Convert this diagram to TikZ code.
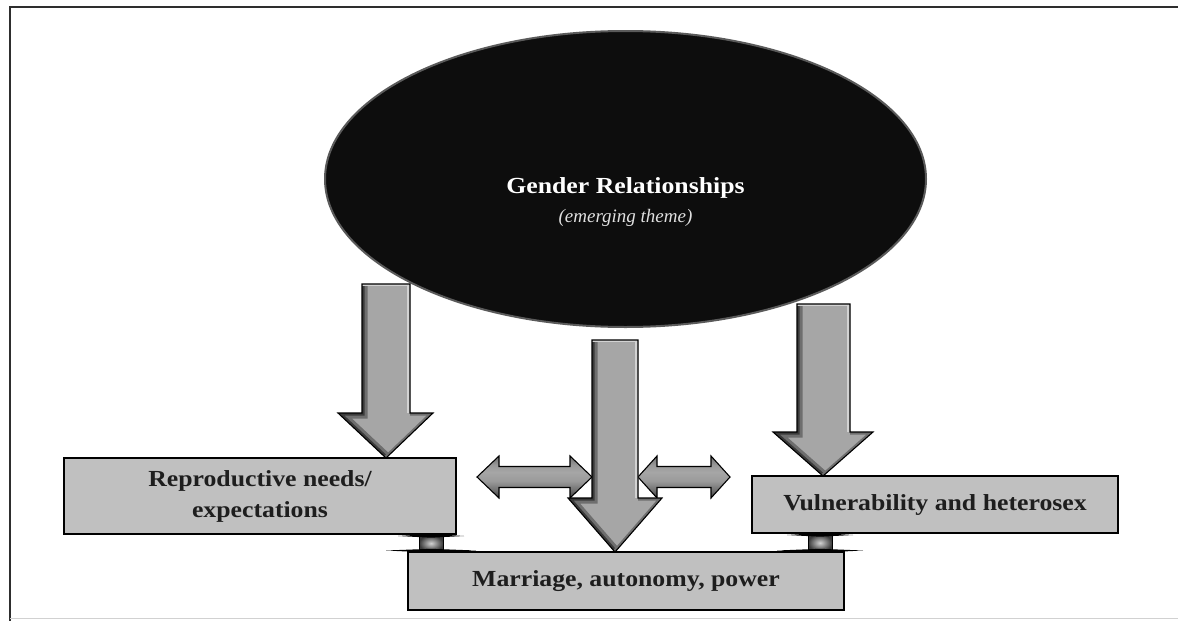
\documentclass[tikz,border=0pt]{standalone}
\usepackage{fontspec}
\setmainfont{Liberation Serif}
\newfontfamily\garb[FakeStretch=1.12]{Liberation Serif}
\usetikzlibrary{shapes.geometric}
\definecolor{boxgray}{HTML}{C0C0C0}
\definecolor{arrgray}{HTML}{A6A6A6}
\definecolor{txt}{HTML}{1E1E1E}
\definecolor{bevdark}{HTML}{3A3A3A}
\definecolor{bevmid}{HTML}{6E6E6E}
\definecolor{bevlight}{HTML}{D2D2D2}
\definecolor{hmid}{HTML}{9A9A9A}
\definecolor{framec}{HTML}{2E2E2E}
\definecolor{rimc}{HTML}{5A5A5A}
\pgfdeclareverticalshading{hbevel}{100bp}{color(0bp)=(bevdark); color(25bp)=(bevdark); color(34bp)=(bevmid); color(45bp)=(hmid); color(56bp)=(arrgray); color(64bp)=(hmid); color(75bp)=(bevmid); color(100bp)=(bevmid)}
\tikzset{
  boxnode/.style={draw=black, line width=1.4pt, fill=boxgray, inner sep=0pt, text=txt,
     font=\garb\bfseries\fontsize{23}{31}\selectfont, align=center},
  arrline/.style={draw=black, line width=1.1pt, line join=miter},
}
% down block arrow: xl xr hl hr y0 hy xc ty
\newcommand{\blkdown}[8]{%
  \begin{scope}
    \clip (#1,#5) -- (#2,#5) -- (#2,#6) -- (#4,#6) -- (#7,#8) -- (#3,#6) -- (#1,#6) -- cycle;
    \fill[arrgray] (#3,#5) rectangle (#4,#8);
    \draw[line width=11pt, bevmid] (#1,#5) -- (#1,#6) -- (#3,#6) -- (#7,#8);
    \draw[line width=5pt, bevdark] (#1,#5) -- (#1,#6) -- (#3,#6) -- (#7,#8);
    \draw[line width=7pt, bevlight] (#2,#5) -- (#2,#6);
    \draw[line width=4pt, bevlight] (#1,#5) -- (#2,#5);
    \draw[line width=5pt, bevmid] (#2,#6) -- (#4,#6) -- (#7,#8);
  \end{scope}
  \draw[arrline] (#1,#5) -- (#2,#5) -- (#2,#6) -- (#4,#6) -- (#7,#8) -- (#3,#6) -- (#1,#6) -- cycle;
}
% double horizontal block arrow: xa xb yc hs hh hl
\newcommand{\blkdouble}[6]{%
  \path[shading=hbevel, arrline] (#1,#3) -- ({#1+#6},{#3-#5}) -- ({#1+#6},{#3-#4}) -- ({#2-#6},{#3-#4})
     -- ({#2-#6},{#3-#5}) -- (#2,#3) -- ({#2-#6},{#3+#5}) -- ({#2-#6},{#3+#4}) -- ({#1+#6},{#3+#4})
     -- ({#1+#6},{#3+#5}) -- cycle;
}
% small squashed up-down connector: xc wr ytop ybot top-spike-half bottom-spike-half
\newcommand{\smallconn}[6]{%
  \path[inner color=bevlight, outer color=bevdark] ({#1-#2},#3) rectangle ({#1+#2},#4);
  \draw[black, line width=0.8pt] ({#1-#2},#3) rectangle ({#1+#2},#4);
  \fill[black] ({#1-#5},{#3+0.5}) -- ({#1},{#3-1.6}) -- ({#1+#5},{#3+0.5}) -- ({#1},{#3+2.2}) -- cycle;
  \fill[black] ({#1-#6},{#4-0.5}) -- ({#1},{#4-2.2}) -- ({#1+#6},{#4-0.5}) -- ({#1},{#4+1.6}) -- cycle;
}
\begin{document}
\begin{tikzpicture}[x=1pt,y=-1pt]
\useasboundingbox (0,0) rectangle (1178,621);
\fill[white] (0,0) rectangle (1178,621);
% frame
\draw[framec, line width=2.6pt] (10,621) -- (10,7) -- (1178,7);
\draw[black!18, line width=1.5pt] (10,618.5) -- (1178,618.5);

% ellipse
\node[ellipse, fill=black!95, draw=rimc, line width=2pt, minimum width=601pt, minimum height=296pt, inner sep=0pt] (gender) at (625.5,179) {};
\node[text=white, inner sep=0pt, anchor=base, font=\garb\bfseries\fontsize{23}{30}\selectfont] (gtext) at (625.5,193) {Gender Relationships};
\node[text=black!12, inner sep=0pt, anchor=base, font=\itshape\fontsize{19}{30}\selectfont] (gsub) at (625.5,222) {(emerging theme)};

% boxes
\node[boxnode, minimum width=392pt, minimum height=76pt] (repro) at (260,496) {Reproductive needs/\\expectations};
\node[boxnode, minimum width=436pt, minimum height=58pt] (marr) at (626,581) {Marriage, autonomy, power};
\node[boxnode, minimum width=366pt, minimum height=57pt] (vuln) at (935,504.5) {Vulnerability and heterosex};

% arrows
\blkdown{362}{410}{338}{433}{284}{413}{386}{458}
\blkdouble{477}{592}{477}{10.5}{21}{22}
\blkdouble{638}{730}{477}{10.5}{21}{19}
\blkdown{592}{638}{568}{662}{340}{498}{615}{552}
\blkdown{797}{850}{773}{873}{304}{432}{823}{476}

% small connectors between boxes
\smallconn{431}{12}{535.5}{551}{33}{45}
\smallconn{820}{12}{534.5}{551}{33}{43}
\end{tikzpicture}
\end{document}
